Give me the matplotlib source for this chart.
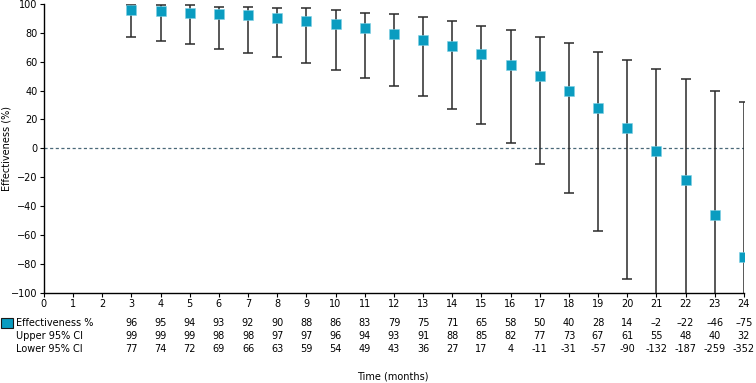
import matplotlib

matplotlib.use("Agg")
import matplotlib.pyplot as plt
import matplotlib.transforms as mtransforms
from matplotlib.patches import Rectangle

months = [3, 4, 5, 6, 7, 8, 9, 10, 11, 12, 13, 14, 15, 16, 17, 18, 19, 20, 21, 22, 23, 24]
effectiveness = [96, 95, 94, 93, 92, 90, 88, 86, 83, 79, 75, 71, 65, 58, 50, 40, 28, 14, -2, -22, -46, -75]
upper_ci = [99, 99, 99, 98, 98, 97, 97, 96, 94, 93, 91, 88, 85, 82, 77, 73, 67, 61, 55, 48, 40, 32]
lower_ci = [77, 74, 72, 69, 66, 63, 59, 54, 49, 43, 36, 27, 17, 4, -11, -31, -57, -90, -132, -187, -259, -352]
row_labels = ["Effectiveness %", "Upper 95% CI", "Lower 95% CI"]

BLUE = "#0a9cc0"
plt.rcParams.update({"font.family": "DejaVu Sans", "font.size": 7})

fig = plt.figure(figsize=(7.56, 3.83), dpi=100)
ax = fig.add_axes([0.058, 0.235, 0.926, 0.755])

yerr = [
    [e - lo for e, lo in zip(effectiveness, lower_ci)],
    [up - e for e, up in zip(effectiveness, upper_ci)],
]
ax.errorbar(
    months, effectiveness, yerr=yerr, fmt="none",
    ecolor="#2a2a2a", elinewidth=1.1, capsize=3.5, capthick=1.1, zorder=2,
)
ax.plot(months, effectiveness, linestyle="none", marker="s", markersize=7.5,
        color=BLUE, markeredgecolor="#7fd0e4", markeredgewidth=0.4, zorder=3)
ax.axhline(0, color="#4a6878", linestyle=(0, (2.5, 2)), linewidth=0.9, zorder=1)

ax.set_xlim(0, 24)
ax.set_ylim(-100, 100)
ax.set_xticks(range(0, 25))
ax.set_yticks(range(-100, 101, 20))
ax.set_ylabel("Effectiveness (%)", fontsize=7)
ax.yaxis.set_label_coords(-0.046, 0.5)
for side in ("top", "right"):
    ax.spines[side].set_visible(False)
for side in ("left", "bottom"):
    ax.spines[side].set_linewidth(1.0)
ax.tick_params(length=3, width=0.8, pad=1.5, labelsize=7)

# data table below the axis
trans = mtransforms.blended_transform_factory(ax.transData, fig.transFigure)
row_y = [0.157, 0.122, 0.088]
rows = [
    [f"{v}".replace("-", "\u2013") for v in effectiveness],
    [f"{v}" for v in upper_ci],
    [f"{v}" for v in lower_ci],
]
for y, label, vals in zip(row_y, row_labels, rows):
    fig.text(0.021, y, label, ha="left", va="center", fontsize=7)
    for m, v in zip(months, vals):
        ax.text(m, y, v, transform=trans, ha="center", va="center", fontsize=7, clip_on=False)

fig.patches.append(Rectangle((0.001, row_y[0] - 0.013), 0.016, 0.026, transform=fig.transFigure,
                             facecolor=BLUE, edgecolor="#1a1a1a", linewidth=0.8))

fig.text(0.52, 0.018, "Time (months)", ha="center", va="center", fontsize=7)

fig.savefig("out.png", dpi=100)
